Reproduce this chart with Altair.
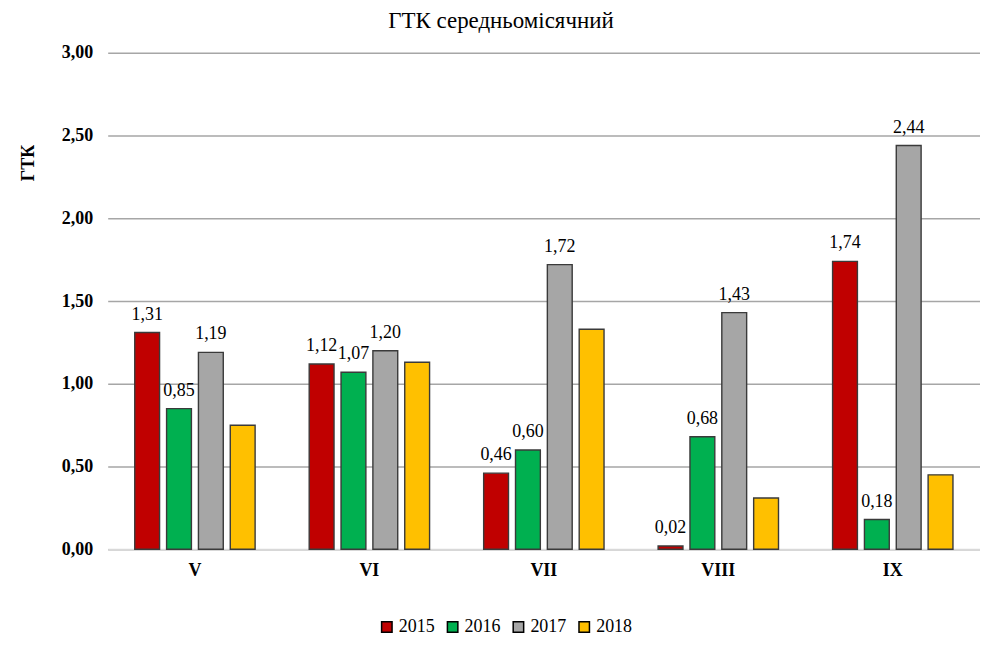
import altair as alt
import pandas as pd

months = ["V", "VI", "VII", "VIII", "IX"]
years = ["2015", "2016", "2017", "2018"]
colors = ["#c00000", "#00b050", "#a6a6a6", "#ffc000"]
v2015 = [1.31, 1.12, 0.46, 0.02, 1.74]
v2016 = [0.85, 1.07, 0.60, 0.68, 0.18]
v2017 = [1.19, 1.20, 1.72, 1.43, 2.44]
v2018 = [0.75, 1.13, 1.33, 0.31, 0.45]
labelled_years = ["2015", "2016", "2017"]
y_ticks = [0, 0.5, 1.0, 1.5, 2.0, 2.5, 3.0]

rows = []
for yr, vals in zip(years, [v2015, v2016, v2017, v2018]):
    for m, v in zip(months, vals):
        rows.append({"month": m, "year": yr, "value": v})
df = pd.DataFrame(rows)

FONT = "Liberation Serif"

base = alt.Chart(df).encode(
    x=alt.X(
        "month:N",
        sort=months,
        scale=alt.Scale(paddingInner=0.31, paddingOuter=0.155),
        axis=alt.Axis(
            title=None,
            labelAngle=0,
            labelFont=FONT,
            labelFontSize=18,
            labelFontWeight="bold",
            labelColor="black",
            labelPadding=12,
            ticks=False,
            domainColor="#d9d9d9",
            domainWidth=2,
        ),
    ),
    xOffset=alt.XOffset(
        "year:N",
        sort=years,
        scale=alt.Scale(domain=years, paddingInner=0.22, paddingOuter=0),
    ),
)

bars = base.mark_bar(stroke="#3a3a3a", strokeWidth=1.4).encode(
    y=alt.Y(
        "value:Q",
        scale=alt.Scale(domain=[0, 3], nice=False),
        axis=alt.Axis(
            title="ГТК",
            titleFont=FONT,
            titleFontSize=18,
            titleFontWeight="bold",
            titleColor="black",
            titleX=-70,
            titleY=110,
            titleAlign="center",
            titleAngle=270,
            values=y_ticks,
            format=".2f",
            labelFont=FONT,
            labelFontSize=18,
            labelFontWeight="bold",
            labelColor="black",
            labelPadding=15,
            ticks=False,
            domain=False,
            gridColor="#a6a6a6",
            gridWidth=1.5,
        ),
    ),
    color=alt.Color(
        "year:N",
        sort=years,
        scale=alt.Scale(domain=years, range=colors),
        legend=alt.Legend(
            title=None,
            orient="none",
            direction="horizontal",
            legendX=271,
            legendY=567,
            symbolType="square",
            symbolSize=110,
            symbolStrokeColor="black",
            symbolStrokeWidth=1.5,
            symbolOpacity=1,
            labelFont=FONT,
            labelFontSize=18,
            labelColor="black",
            labelOffset=3,
            columnPadding=9,
        ),
    ),
)

labels = (
    base.transform_filter(alt.FieldOneOfPredicate(field="year", oneOf=labelled_years))
    .mark_text(baseline="bottom", dy=-9, font=FONT, fontSize=18, color="black")
    .encode(
        y=alt.Y("value:Q"),
        text=alt.Text("value:Q", format=".2f"),
    )
)

chart = (
    alt.layer(bars, labels)
    .properties(
        width=875,
        height=498,
        title=alt.TitleParams(
            "ГТК середньомісячний",
            font=FONT,
            fontSize=23,
            fontWeight="normal",
            color="black",
            anchor="middle",
            dx=-43,
            offset=11,
        ),
        autosize=alt.AutoSizeParams(type="none"),
        padding={"left": 100, "top": 44, "right": 0, "bottom": 85},
    )
    .configure(
        locale={
            "number": {
                "decimal": ",",
                "thousands": " ",
                "grouping": [3],
                "currency": ["", ""],
            }
        }
    )
    .configure_view(strokeWidth=0)
)

chart.save("out.html", embed_options={"renderer": "svg", "actions": False})
